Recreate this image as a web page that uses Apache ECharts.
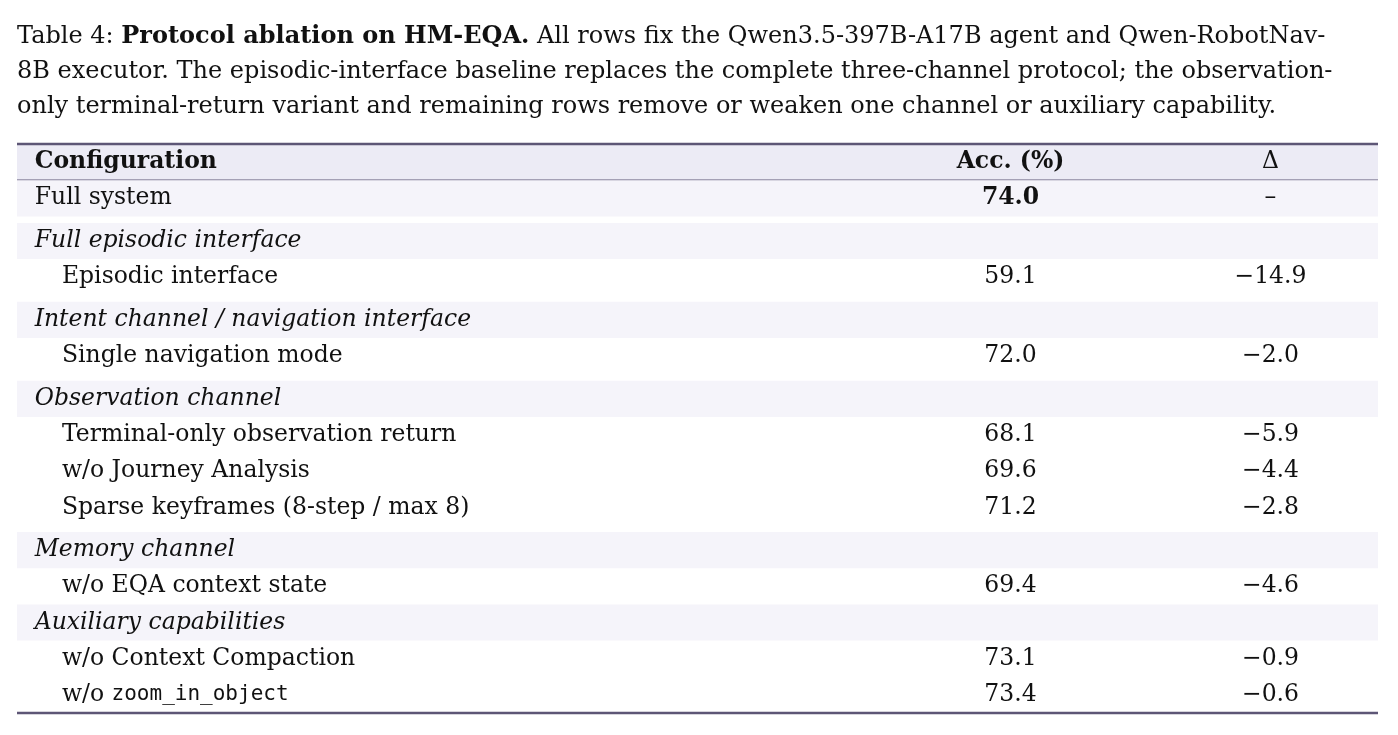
<!DOCTYPE html>
<html><head><meta charset="utf-8">
<script src="https://cdn.jsdelivr.net/npm/echarts@6/dist/echarts.min.js"></script>
<style>html,body{margin:0;padding:0;background:#fff}#c{width:1398px;height:735px}</style>
</head><body><div id="c"></div>
<script>
// Data
const configurations = ["Configuration","Full system","Full episodic interface","Episodic interface","Intent channel / navigation interface","Single navigation mode","Observation channel","Terminal-only observation return","w/o Journey Analysis","Sparse keyframes (8-step / max 8)","Memory channel","w/o EQA context state","Auxiliary capabilities","w/o Context Compaction","w/o zoom_in_object"];
const rowKinds = ["header","full","section","item","section","item","section","item","item","item","section","item","section","item","item"];
const accuracy = ["Acc. (%)","74.0","","59.1","","72.0","","68.1","69.6","71.2","","69.4","","73.1","73.4"];
const deltas = ["Δ","–","","−14.9","","−2.0","","−5.9","−4.4","−2.8","","−4.6","","−0.9","−0.6"];
const gapBefore = [0,0,1,0,1,0,1,0,0,0,1,0,0,0,0];

const GAP = 0.18;
let pos = [], y = 0;
configurations.forEach((c,i)=>{ if(gapBefore[i]) y += GAP; pos.push(y); y += 1; });
const total = y;
const data = configurations.map((c,i)=>[i,pos[i]]);
const F = '"DejaVu Serif", "Liberation Serif", serif';
const FS = 23.5;
const chart = echarts.init(document.getElementById('c'));
function cfgText(i){
  const t = configurations[i];
  if (t.indexOf('zoom_in_object')>=0) return '{n|w/o }{m|zoom_in_object}';
  return t;
}
chart.setOption({
  animation:false,
  title:{left:12, top:14, text:'{n|Table 4: }{b|Protocol ablation on HM-EQA.}{n| All rows fix the Qwen3.5-397B-A17B agent and Qwen-RobotNav-}\n{n|8B executor. The episodic-interface baseline replaces the complete three-channel protocol; the observation-}\n{n|only terminal-return variant and remaining rows remove or weaken one channel or auxiliary capability.}',
    textStyle:{fontWeight:'normal',rich:{n:{fontFamily:F,fontSize:24,fontWeight:'normal',color:'#111',lineHeight:35},b:{fontFamily:F,fontSize:24,fontWeight:'bold',color:'#111',lineHeight:35}}}},
  grid:{left:17,right:20,top:144,height:569},
  xAxis:{type:'value',min:0,max:1,show:false},
  yAxis:{type:'value',min:0,max:total,inverse:true,show:false},
  series:[{type:'custom',data:data,renderItem:function(params,api){
    const i=api.value(0), y0=api.value(1);
    const p0=api.coord([0,y0]), p1=api.coord([1,y0+1]);
    const h=p1[1]-p0[1], w=p1[0]-p0[0], cy=(p0[1]+p1[1])/2;
    const kind=rowKinds[i];
    const ch=[];
    let fill=null;
    if(kind==='header') fill='#ecebf5'; else if(kind==='full'||kind==='section') fill='#f5f4fa';
    if(fill) ch.push({type:'rect',shape:{x:p0[0],y:p0[1],width:w,height:h},style:{fill:fill}});
    const bold=kind==='header';
    const italic=kind==='section';
    const xt=(kind==='item')?0.033:0.013;
    ch.push({type:'text',x:api.coord([xt,0])[0],y:cy,style:{text:cfgText(i),fontFamily:F,fontSize:FS,fontWeight:bold?'bold':'normal',fontStyle:italic?'italic':'normal',fill:'#111',verticalAlign:'middle',align:'left',
      rich:{n:{fontFamily:F,fontSize:FS,fill:'#111'},m:{fontFamily:'"DejaVu Sans Mono","Liberation Mono",monospace',fontSize:21,fill:'#111'}}}});
    ch.push({type:'text',x:api.coord([0.730,0])[0],y:cy,style:{text:accuracy[i],fontFamily:F,fontSize:FS,fontWeight:(kind==='header'||kind==='full')?'bold':'normal',fill:'#111',align:'center',verticalAlign:'middle'}});
    ch.push({type:'text',x:api.coord([0.921,0])[0],y:cy,style:{text:deltas[i],fontFamily:F,fontSize:FS,fill:'#111',align:'center',verticalAlign:'middle'}});
    if(kind==='header'){
      ch.push({type:'line',shape:{x1:p0[0],y1:p0[1],x2:p1[0],y2:p0[1]},style:{stroke:'#5d5676',lineWidth:2.5}});
      ch.push({type:'line',shape:{x1:p0[0],y1:p1[1],x2:p1[0],y2:p1[1]},style:{stroke:'#5d5676',lineWidth:1.2}});
    }
    if(i===configurations.length-1){
      ch.push({type:'line',shape:{x1:p0[0],y1:p1[1],x2:p1[0],y2:p1[1]},style:{stroke:'#5d5676',lineWidth:2.5}});
    }
    return {type:'group',children:ch};
  }}]
});
</script></body></html>
